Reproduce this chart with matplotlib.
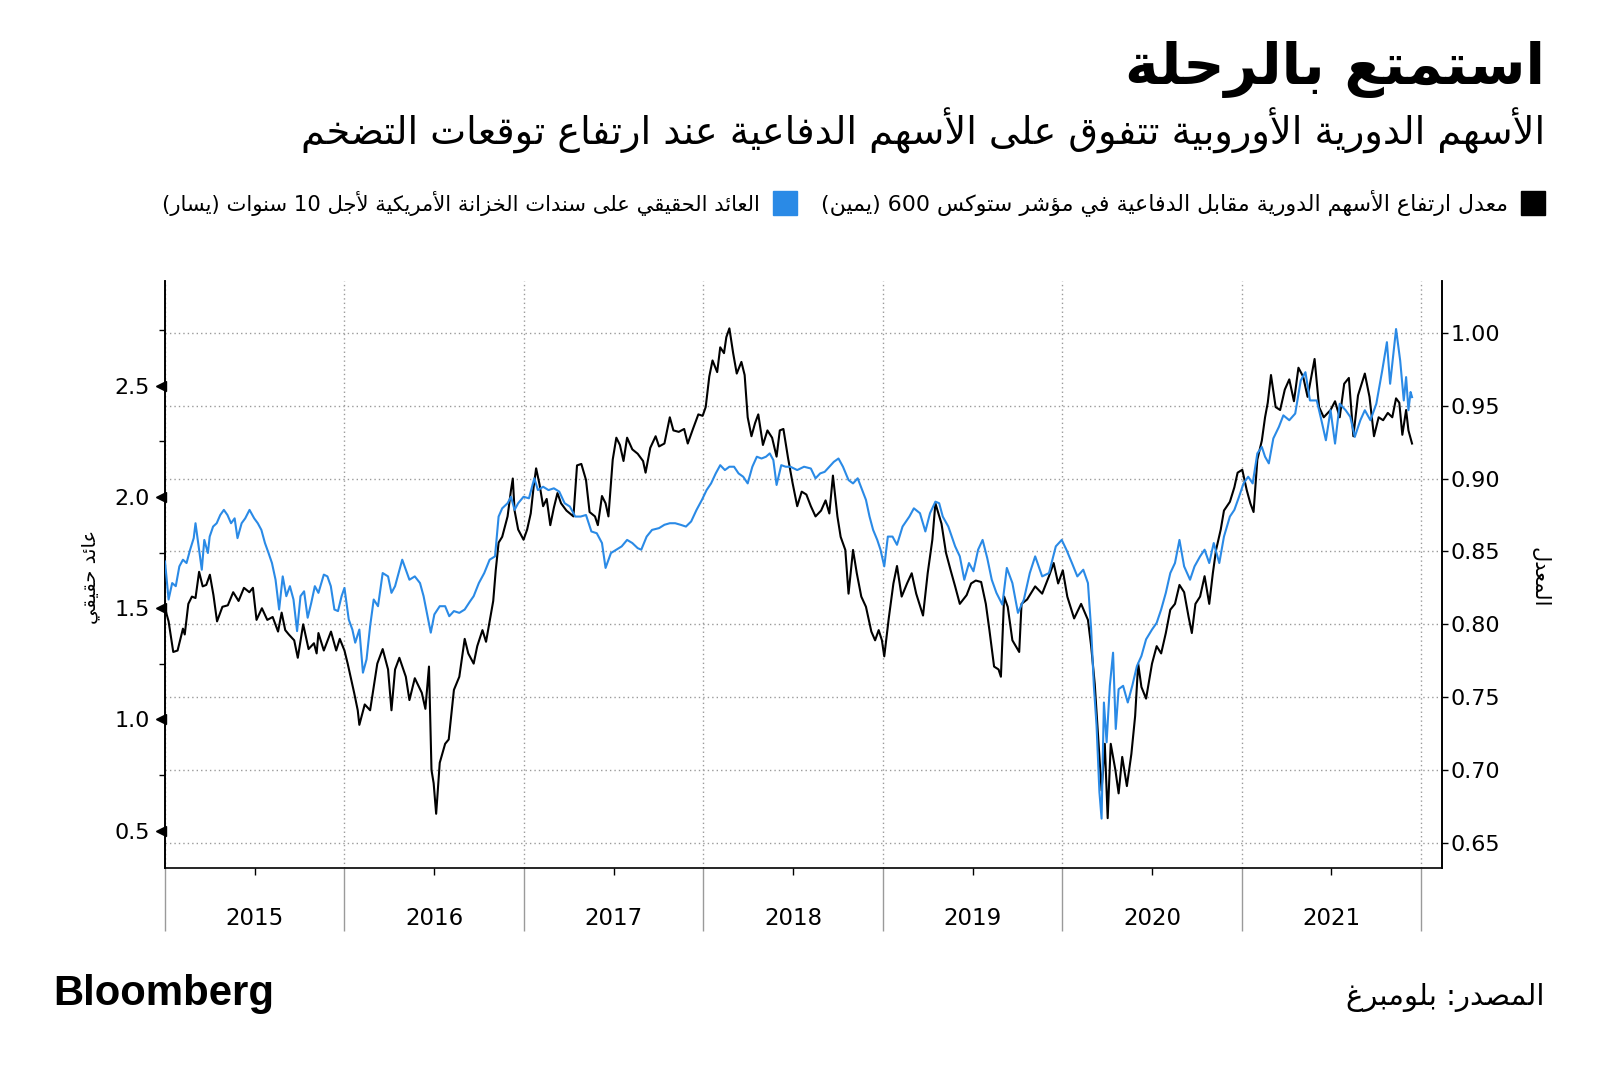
import re
import matplotlib
matplotlib.use("Agg")
import matplotlib.pyplot as plt
from matplotlib.patches import Rectangle

plt.rcParams['font.family'] = ['DejaVu Sans']

# ---- data (dates as decimal years) ----
cyc_dates = [
    2015.00, 2015.02, 2015.046, 2015.07, 2015.10, 2015.11, 2015.13, 2015.15, 2015.17, 2015.19,
    2015.21, 2015.23, 2015.25, 2015.27, 2015.29, 2015.32, 2015.35, 2015.38, 2015.41, 2015.44,
    2015.47, 2015.49, 2015.51, 2015.54, 2015.57, 2015.60, 2015.63, 2015.65, 2015.67, 2015.69,
    2015.72, 2015.74, 2015.77, 2015.80, 2015.83, 2015.845, 2015.855, 2015.885, 2015.925, 2015.954,
    2015.974, 2016.00, 2016.018, 2016.034, 2016.054, 2016.074, 2016.083, 2016.113, 2016.143, 2016.163,
    2016.183, 2016.213, 2016.243, 2016.262, 2016.282, 2016.306, 2016.342, 2016.362, 2016.392, 2016.431,
    2016.451, 2016.471, 2016.485, 2016.497, 2016.511, 2016.531, 2016.561, 2016.581, 2016.610, 2016.640,
    2016.670, 2016.690, 2016.720, 2016.740, 2016.769, 2016.789, 2016.809, 2016.829, 2016.843, 2016.859,
    2016.879, 2016.909, 2016.928, 2016.938, 2016.948, 2016.968, 2016.998, 2017.018, 2017.038, 2017.054,
    2017.068, 2017.087, 2017.107, 2017.127, 2017.147, 2017.167, 2017.187, 2017.207, 2017.237, 2017.276,
    2017.296, 2017.320, 2017.346, 2017.366, 2017.396, 2017.412, 2017.435, 2017.455, 2017.471, 2017.495,
    2017.515, 2017.535, 2017.555, 2017.575, 2017.604, 2017.634, 2017.664, 2017.678, 2017.704, 2017.734,
    2017.753, 2017.783, 2017.813, 2017.833, 2017.863, 2017.893, 2017.913, 2017.942, 2017.972, 2017.996,
    2018.013, 2018.033, 2018.051, 2018.077, 2018.094, 2018.115, 2018.128, 2018.145, 2018.166, 2018.186,
    2018.212, 2018.230, 2018.247, 2018.268, 2018.288, 2018.306, 2018.332, 2018.357, 2018.383, 2018.408,
    2018.426, 2018.446, 2018.472, 2018.497, 2018.523, 2018.548, 2018.574, 2018.599, 2018.625, 2018.656,
    2018.681, 2018.702, 2018.722, 2018.747, 2018.765, 2018.791, 2018.809, 2018.834, 2018.855, 2018.880,
    2018.906, 2018.936, 2018.957, 2018.977, 2018.995, 2019.008, 2019.033, 2019.059, 2019.079, 2019.105,
    2019.135, 2019.161, 2019.186, 2019.224, 2019.250, 2019.276, 2019.293, 2019.327, 2019.352, 2019.378,
    2019.403, 2019.429, 2019.467, 2019.492, 2019.518, 2019.548, 2019.574, 2019.594, 2019.620, 2019.645,
    2019.658, 2019.676, 2019.696, 2019.722, 2019.760, 2019.773, 2019.804, 2019.849, 2019.888, 2019.926,
    2019.952, 2019.977, 2020.003, 2020.028, 2020.066, 2020.105, 2020.143, 2020.161, 2020.181, 2020.202,
    2020.219, 2020.237, 2020.253, 2020.270, 2020.296, 2020.314, 2020.334, 2020.360, 2020.385, 2020.406,
    2020.423, 2020.441, 2020.467, 2020.500, 2020.526, 2020.551, 2020.577, 2020.602, 2020.628, 2020.653,
    2020.679, 2020.704, 2020.722, 2020.742, 2020.768, 2020.793, 2020.819, 2020.839, 2020.857, 2020.883,
    2020.901, 2020.934, 2020.959, 2020.977, 2021.003, 2021.028, 2021.048, 2021.066, 2021.087, 2021.112,
    2021.130, 2021.145, 2021.163, 2021.189, 2021.214, 2021.240, 2021.265, 2021.291, 2021.316, 2021.342,
    2021.367, 2021.406, 2021.431, 2021.457, 2021.495, 2021.520, 2021.546, 2021.571, 2021.597, 2021.622,
    2021.648, 2021.686, 2021.712, 2021.737, 2021.763, 2021.788, 2021.814, 2021.839, 2021.860, 2021.878,
    2021.895, 2021.916, 2021.929, 2021.949,
]
cyc_ratio = [
    0.811, 0.802, 0.781, 0.782, 0.797, 0.793, 0.814, 0.819, 0.818, 0.836,
    0.826, 0.827, 0.834, 0.820, 0.802, 0.812, 0.813, 0.822, 0.816, 0.825,
    0.822, 0.825, 0.803, 0.811, 0.803, 0.805, 0.795, 0.808, 0.796, 0.793,
    0.789, 0.777, 0.800, 0.783, 0.787, 0.780, 0.794, 0.782, 0.795, 0.782,
    0.790, 0.782, 0.773, 0.764, 0.753, 0.741, 0.731, 0.745, 0.741, 0.757,
    0.773, 0.783, 0.769, 0.741, 0.769, 0.777, 0.764, 0.748, 0.763, 0.753,
    0.742, 0.771, 0.700, 0.691, 0.670, 0.705, 0.718, 0.721, 0.755, 0.764,
    0.790, 0.780, 0.773, 0.785, 0.796, 0.788, 0.802, 0.816, 0.837, 0.856,
    0.860, 0.874, 0.892, 0.900, 0.878, 0.865, 0.858, 0.865, 0.876, 0.894,
    0.907, 0.896, 0.881, 0.886, 0.868, 0.880, 0.890, 0.883, 0.878, 0.874,
    0.909, 0.910, 0.899, 0.877, 0.874, 0.868, 0.888, 0.883, 0.874, 0.913,
    0.928, 0.923, 0.912, 0.928, 0.920, 0.917, 0.912, 0.904, 0.921, 0.929,
    0.922, 0.924, 0.942, 0.933, 0.932, 0.934, 0.924, 0.934, 0.944, 0.943,
    0.949, 0.970, 0.981, 0.973, 0.990, 0.986, 0.997, 1.003, 0.986, 0.972,
    0.980, 0.971, 0.942, 0.929, 0.938, 0.944, 0.923, 0.933, 0.928, 0.915,
    0.933, 0.934, 0.914, 0.897, 0.881, 0.891, 0.889, 0.881, 0.874, 0.878,
    0.885, 0.876, 0.902, 0.874, 0.860, 0.851, 0.821, 0.851, 0.835, 0.819,
    0.812, 0.795, 0.789, 0.796, 0.789, 0.778, 0.804, 0.828, 0.840, 0.819,
    0.828, 0.835, 0.821, 0.806, 0.835, 0.858, 0.883, 0.869, 0.849, 0.837,
    0.826, 0.814, 0.820, 0.828, 0.830, 0.829, 0.814, 0.796, 0.771, 0.769,
    0.764, 0.819, 0.812, 0.789, 0.781, 0.814, 0.817, 0.826, 0.821, 0.833,
    0.842, 0.828, 0.837, 0.819, 0.804, 0.814, 0.803, 0.785, 0.759, 0.718,
    0.686, 0.718, 0.667, 0.718, 0.700, 0.684, 0.709, 0.689, 0.711, 0.737,
    0.773, 0.757, 0.749, 0.773, 0.785, 0.780, 0.794, 0.810, 0.814, 0.827,
    0.822, 0.805, 0.794, 0.814, 0.819, 0.833, 0.814, 0.835, 0.851, 0.865,
    0.878, 0.884, 0.894, 0.904, 0.906, 0.892, 0.883, 0.877, 0.913, 0.926,
    0.942, 0.952, 0.971, 0.949, 0.947, 0.961, 0.968, 0.953, 0.976, 0.970,
    0.956, 0.982, 0.949, 0.942, 0.947, 0.953, 0.942, 0.965, 0.969, 0.929,
    0.957, 0.972, 0.956, 0.929, 0.942, 0.940, 0.945, 0.942, 0.955, 0.952,
    0.930, 0.947, 0.933, 0.924,
]

yield_dates = [
    2015.00, 2015.02, 2015.04, 2015.06, 2015.08, 2015.10, 2015.12, 2015.14, 2015.16, 2015.17,
    2015.185, 2015.205, 2015.219, 2015.239, 2015.249, 2015.268, 2015.288, 2015.308, 2015.328, 2015.348,
    2015.368, 2015.388, 2015.404, 2015.427, 2015.447, 2015.471, 2015.497, 2015.517, 2015.537, 2015.557,
    2015.577, 2015.596, 2015.616, 2015.636, 2015.656, 2015.676, 2015.696, 2015.716, 2015.736, 2015.755,
    2015.775, 2015.795, 2015.815, 2015.835, 2015.855, 2015.885, 2015.905, 2015.924, 2015.944, 2015.964,
    2015.984, 2016.00, 2016.024, 2016.044, 2016.060, 2016.083, 2016.103, 2016.123, 2016.143, 2016.163,
    2016.187, 2016.213, 2016.243, 2016.262, 2016.282, 2016.302, 2016.322, 2016.342, 2016.362, 2016.392,
    2016.421, 2016.441, 2016.461, 2016.481, 2016.501, 2016.531, 2016.561, 2016.584, 2016.610, 2016.640,
    2016.670, 2016.700, 2016.720, 2016.749, 2016.779, 2016.809, 2016.839, 2016.859, 2016.879, 2016.909,
    2016.928, 2016.948, 2016.968, 2016.998, 2017.028, 2017.058, 2017.078, 2017.107, 2017.137, 2017.167,
    2017.197, 2017.227, 2017.256, 2017.286, 2017.316, 2017.346, 2017.376, 2017.406, 2017.435, 2017.455,
    2017.485, 2017.515, 2017.545, 2017.575, 2017.604, 2017.634, 2017.654, 2017.684, 2017.714, 2017.753,
    2017.783, 2017.813, 2017.843, 2017.873, 2017.903, 2017.932, 2017.962, 2017.992, 2018.018, 2018.043,
    2018.069, 2018.094, 2018.120, 2018.145, 2018.171, 2018.196, 2018.222, 2018.247, 2018.273, 2018.298,
    2018.324, 2018.349, 2018.370, 2018.390, 2018.408, 2018.434, 2018.459, 2018.485, 2018.523, 2018.561,
    2018.599, 2018.625, 2018.651, 2018.676, 2018.702, 2018.727, 2018.753, 2018.778, 2018.809, 2018.834,
    2018.860, 2018.885, 2018.906, 2018.926, 2018.946, 2018.969, 2018.987, 2019.008, 2019.028, 2019.054,
    2019.079, 2019.110, 2019.148, 2019.173, 2019.207, 2019.237, 2019.263, 2019.293, 2019.314, 2019.334,
    2019.365, 2019.403, 2019.429, 2019.454, 2019.480, 2019.505, 2019.531, 2019.556, 2019.582, 2019.607,
    2019.633, 2019.666, 2019.691, 2019.722, 2019.753, 2019.786, 2019.819, 2019.849, 2019.888, 2019.926,
    2019.964, 2019.997, 2020.023, 2020.054, 2020.084, 2020.117, 2020.143, 2020.161, 2020.176, 2020.191,
    2020.207, 2020.219, 2020.232, 2020.247, 2020.265, 2020.283, 2020.298, 2020.314, 2020.339, 2020.365,
    2020.390, 2020.416, 2020.441, 2020.467, 2020.500, 2020.526, 2020.551, 2020.577, 2020.602, 2020.628,
    2020.653, 2020.679, 2020.712, 2020.737, 2020.768, 2020.793, 2020.819, 2020.844, 2020.875, 2020.901,
    2020.934, 2020.959, 2020.985, 2021.010, 2021.036, 2021.061, 2021.087, 2021.112, 2021.130, 2021.151,
    2021.176, 2021.207, 2021.232, 2021.265, 2021.298, 2021.329, 2021.355, 2021.380, 2021.418, 2021.444,
    2021.469, 2021.495, 2021.520, 2021.546, 2021.579, 2021.605, 2021.630, 2021.661, 2021.686, 2021.717,
    2021.750, 2021.783, 2021.809, 2021.827, 2021.845, 2021.860, 2021.883, 2021.903, 2021.916, 2021.929,
    2021.941, 2021.949,
]
yield_vals = [
    1.710, 1.539, 1.613, 1.599, 1.688, 1.718, 1.703, 1.763, 1.815, 1.882,
    1.793, 1.673, 1.807, 1.748, 1.822, 1.867, 1.882, 1.919, 1.942, 1.919,
    1.882, 1.904, 1.815, 1.882, 1.904, 1.942, 1.904, 1.882, 1.852, 1.793,
    1.748, 1.703, 1.628, 1.494, 1.643, 1.554, 1.599, 1.539, 1.397, 1.554,
    1.576, 1.457, 1.524, 1.599, 1.569, 1.651, 1.643, 1.599, 1.494, 1.487,
    1.554, 1.591, 1.449, 1.404, 1.345, 1.404, 1.210, 1.270, 1.419, 1.539,
    1.509, 1.658, 1.643, 1.569, 1.599, 1.658, 1.718, 1.673, 1.628, 1.643,
    1.613, 1.554, 1.472, 1.390, 1.472, 1.509, 1.509, 1.464, 1.487, 1.479,
    1.494, 1.531, 1.554, 1.613, 1.658, 1.718, 1.733, 1.912, 1.949, 1.972,
    2.001, 1.942, 1.972, 2.001, 1.994, 2.084, 2.031, 2.046, 2.031, 2.039,
    2.024, 1.972, 1.957, 1.912, 1.912, 1.919, 1.845, 1.837, 1.793, 1.681,
    1.748, 1.763, 1.778, 1.807, 1.793, 1.770, 1.763, 1.822, 1.852, 1.860,
    1.875, 1.882, 1.882, 1.875, 1.867, 1.890, 1.942, 1.987, 2.031, 2.061,
    2.106, 2.143, 2.121, 2.136, 2.136, 2.106, 2.091, 2.061, 2.136, 2.181,
    2.173, 2.181, 2.196, 2.166, 2.054, 2.143, 2.136, 2.136, 2.121, 2.136,
    2.128, 2.084, 2.106, 2.113, 2.136, 2.158, 2.173, 2.136, 2.076, 2.061,
    2.084, 2.031, 1.987, 1.912, 1.852, 1.807, 1.763, 1.688, 1.822, 1.822,
    1.785, 1.867, 1.912, 1.949, 1.927, 1.845, 1.927, 1.979, 1.972, 1.912,
    1.867, 1.778, 1.733, 1.628, 1.703, 1.666, 1.763, 1.807, 1.725, 1.628,
    1.569, 1.516, 1.681, 1.613, 1.479, 1.539, 1.658, 1.733, 1.643, 1.658,
    1.778, 1.807, 1.763, 1.703, 1.643, 1.673, 1.613, 1.404, 1.151, 0.972,
    0.673, 0.554, 1.076, 0.897, 1.151, 1.300, 0.957, 1.136, 1.151, 1.076,
    1.151, 1.240, 1.285, 1.360, 1.404, 1.434, 1.494, 1.569, 1.658, 1.703,
    1.807, 1.688, 1.628, 1.688, 1.733, 1.763, 1.703, 1.793, 1.703, 1.822,
    1.912, 1.942, 2.001, 2.061, 2.091, 2.061, 2.196, 2.225, 2.181, 2.151,
    2.263, 2.315, 2.367, 2.345, 2.375, 2.524, 2.561, 2.434, 2.434, 2.345,
    2.255, 2.390, 2.240, 2.419, 2.390, 2.360, 2.270, 2.345, 2.390, 2.345,
    2.419, 2.569, 2.696, 2.509, 2.643, 2.755, 2.613, 2.434, 2.539, 2.390,
    2.472, 2.449,
]

years = [2015, 2016, 2017, 2018, 2019, 2020, 2021]
ratio_ticks = [0.65, 0.70, 0.75, 0.80, 0.85, 0.90, 0.95, 1.00]
yield_ticks = [0.5, 1.0, 1.5, 2.0, 2.5]
yield_minor = [0.75, 1.25, 1.75, 2.25, 2.75]

title = 'استمتع بالرحلة'
subtitle = 'الأسهم الدورية الأوروبية تتفوق على الأسهم الدفاعية عند ارتفاع توقعات التضخم'
legend_ratio = 'معدل ارتفاع الأسهم الدورية مقابل الدفاعية في مؤشر ستوكس 600 (يمين)'
legend_yield = 'العائد الحقيقي على سندات الخزانة الأمريكية لأجل 10 سنوات (يسار)'
left_label = 'عائد حقيقي'
right_label = 'المعدل'
source = 'المصدر: بلومبرغ'


# ---- small arabic shaper (matplotlib has no complex text layout) ----
DUAL = {'ئ': 0xFE89, 'ب': 0xFE8F, 'ت': 0xFE95, 'ث': 0xFE99, 'ج': 0xFE9D, 'ح': 0xFEA1,
        'خ': 0xFEA5, 'س': 0xFEB1, 'ش': 0xFEB5, 'ص': 0xFEB9, 'ض': 0xFEBD, 'ط': 0xFEC1,
        'ظ': 0xFEC5, 'ع': 0xFEC9, 'غ': 0xFECD, 'ف': 0xFED1, 'ق': 0xFED5, 'ك': 0xFED9,
        'ل': 0xFEDD, 'م': 0xFEE1, 'ن': 0xFEE5, 'ه': 0xFEE9, 'ي': 0xFEF1}
RIGHT = {'آ': 0xFE81, 'أ': 0xFE83, 'ؤ': 0xFE85, 'إ': 0xFE87, 'ا': 0xFE8D, 'ة': 0xFE93,
         'د': 0xFEA9, 'ذ': 0xFEAB, 'ر': 0xFEAD, 'ز': 0xFEAF, 'و': 0xFEED, 'ى': 0xFEEF}
LAM_ALEF = {'آ': 0xFEF5, 'أ': 0xFEF7, 'إ': 0xFEF9, 'ا': 0xFEFB}


def ar(text):
    out = []
    i, n = 0, len(text)
    while i < n:
        c = text[i]
        joins_prev = i > 0 and text[i - 1] in DUAL and (c in DUAL or c in RIGHT)
        if c == 'ل' and i + 1 < n and text[i + 1] in LAM_ALEF:
            out.append(chr(LAM_ALEF[text[i + 1]] + (1 if joins_prev else 0)))
            i += 2
            continue
        nxt = text[i + 1] if i + 1 < n else ''
        joins_next = c in DUAL and (nxt in DUAL or nxt in RIGHT)
        if c in DUAL:
            base = DUAL[c]
            if joins_prev and joins_next:
                g = base + 3
            elif joins_prev:
                g = base + 1
            elif joins_next:
                g = base + 2
            else:
                g = base
            out.append(chr(g))
        elif c in RIGHT:
            out.append(chr(RIGHT[c] + (1 if joins_prev else 0)))
        else:
            out.append(c)
        i += 1
    s = ''.join(out)[::-1]
    s = re.sub(r'[0-9]+', lambda m: m.group(0)[::-1], s)
    return s.translate(str.maketrans('()', ')('))


W, H = 1600, 1072
fig = plt.figure(figsize=(W / 100, H / 100), dpi=100)
fig.subplots_adjust(left=165 / W, right=1442 / W, top=1 - 281 / H, bottom=1 - 868 / H)
ax = fig.add_subplot(111)
ax2 = ax.twinx()

grid_c = '#9a9a9a'
blue = '#2a8ae6'

# ratio (right axis) on the main axes, which also carries the grid
ax.plot(cyc_dates, cyc_ratio, color='black', lw=1.5, zorder=3)
ax.set_ylim(0.6328, 1.0355)
ax.set_yticks(ratio_ticks)
ax.set_yticklabels([f'{v:.2f}' for v in ratio_ticks])
ax.yaxis.tick_right()
ax.yaxis.set_label_position('right')
ax.tick_params(axis='y', which='major', length=4, width=1, pad=2, labelsize=16)
ax.grid(axis='y', ls=(0, (1, 2.2)), color=grid_c, lw=1)

ax.set_xlim(2015, 2022.116)
ax.set_xticks(range(2015, 2023))
ax.set_xticklabels([])
ax.set_xticks([y + 0.5 for y in years], minor=True)
ax.set_xticklabels([str(y) for y in years], minor=True)
ax.tick_params(axis='x', which='major', length=45, width=1, color=grid_c)
ax.tick_params(axis='x', which='minor', length=5, width=1, pad=23, labelsize=16.5)
ax.grid(axis='x', which='major', ls=(0, (1, 2.2)), color=grid_c, lw=1)

# real yield (left axis)
ax2.plot(yield_dates, yield_vals, color=blue, lw=1.5, zorder=3)
ax2.set_ylim(0.332, 2.971)
ax2.yaxis.tick_left()
ax2.yaxis.set_label_position('left')
ax2.set_yticks(yield_ticks)
ax2.set_yticklabels([f'{v:.1f}' for v in yield_ticks])
ax2.set_yticks(yield_minor, minor=True)
ax2.tick_params(axis='y', which='major', length=0, pad=11, labelsize=16)
ax2.tick_params(axis='y', which='minor', length=4, width=1)
ax2.plot([-0.0035] * len(yield_ticks), yield_ticks, ls='none', marker='<', ms=7,
         color='black', transform=ax2.get_yaxis_transform(), clip_on=False)

for a in (ax, ax2):
    a.spines['top'].set_visible(False)
    for s in ('left', 'right', 'bottom'):
        a.spines[s].set_linewidth(1.2)
ax2.spines['bottom'].set_visible(False)

fig.text(90 / W, 1 - 577 / H, ar(left_label), rotation=90, ha='center', va='center', fontsize=14)
fig.text(1539 / W, 1 - 577 / H, ar(right_label), rotation=-90, ha='center', va='center', fontsize=15)

# titles
fig.text(1545 / W, 1 - 84 / H, ar(title), ha='right', va='baseline', fontsize=41.2, fontweight='bold')
fig.text(1545 / W, 1 - 145 / H, ar(subtitle), ha='right', va='baseline', fontsize=27.5)

# legend
sq = 24
fig.patches.append(Rectangle((1521 / W, 1 - 215 / H), sq / W, sq / H, color='black',
                             transform=fig.transFigure))
fig.text(1508 / W, 1 - 203 / H, ar(legend_ratio), ha='right', va='center', fontsize=15.9)
fig.patches.append(Rectangle((773 / W, 1 - 215 / H), sq / W, sq / H, color=blue,
                             transform=fig.transFigure))
fig.text(760 / W, 1 - 203 / H, ar(legend_yield), ha='right', va='center', fontsize=15.2)

# footer
fig.text(53 / W, 1 - 1005 / H, 'Bloomberg', ha='left', va='baseline', fontsize=30.2,
         fontweight='bold', family='Liberation Sans')
fig.text(1545 / W, 1 - 1005 / H, ar(source), ha='right', va='baseline', fontsize=21)

fig.savefig('out.png', dpi=100, facecolor='white')
